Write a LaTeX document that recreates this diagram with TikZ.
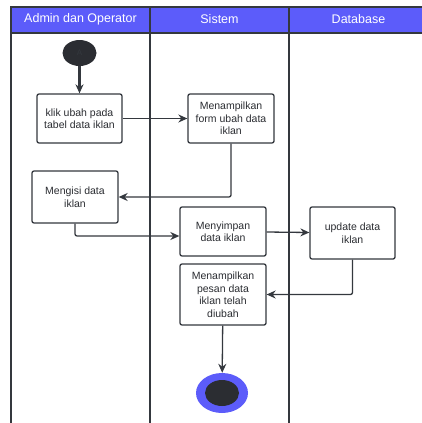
\documentclass[tikz,border=0pt]{standalone}
\usepackage{fontspec}
\setmainfont{Liberation Sans}
\usepackage{tikz}
\definecolor{lanehead}{RGB}{92, 92, 250}
\definecolor{ln}{RGB}{52, 56, 62}
\definecolor{dk}{RGB}{43, 45, 50}
\usetikzlibrary{arrows.meta}
\usetikzlibrary{positioning}
\usetikzlibrary{shapes.geometric}

\begin{document}
\begin{tikzpicture}[x=1pt, y=1pt,
act/.style={rectangle, rounded corners=2pt, draw=ln, line width=1.3pt, fill=white, minimum width=86pt, minimum height=49pt, align=center, font=\fontsize{10.5}{12.5}\selectfont, text=dk},
flow/.style={line width=1.3pt, color=ln, -{Stealth[length=9pt, width=8pt]}},
lane/.style={line width=1.4pt, color=ln},
head/.style={text=white, font=\fontsize{12.5}{14}\selectfont}]
\useasboundingbox (0,0) rectangle (422,-423);
% swimlanes
\fill [lanehead] (11,-7) rectangle (424,-33);
\draw [lane] (11,-425) -- (11,-7) -- (424,-7);
\draw [lane] (11,-33) -- (424,-33);
\draw [lane] (150,-7) -- (150,-425);
\draw [lane] (289,-7) -- (289,-425);
\node (h1) [head] at (80.5, -19.5) {Admin dan Operator};
\node (h2) [head] at (219.5, -19.5) {Sistem};
\node (h3) [head] at (358.5, -19.5) {Database};
% activities
\node (0) [ellipse, minimum width=34pt, minimum height=26pt, fill=dk, inner sep=0pt, text=ln, font=\fontsize{8}{8}\selectfont] at (79.5, -53) {A};
\node (1) [act, minimum width=85pt] at (79.5, -118.5) {klik ubah pada\\tabel data iklan};
\node (2) [act] at (231, -118.5) {Menampilkan\\form ubah data\\iklan};
\node (3) [act, minimum height=52pt] at (75, -197) {Mengisi data\\iklan};
\node (4) [act] at (223, -231.5) {Menyimpan\\data iklan};
\node (5) [act, minimum width=85pt, minimum height=52pt] at (352.5, -233) {update data\\iklan};
\node (6) [act, minimum height=61pt] at (223, -294.5) {Menampilkan\\pesan data\\iklan telah\\diubah};
\node (7) [ellipse, minimum width=52pt, minimum height=40pt, fill=lanehead, inner sep=0pt] at (222, -393) {};
\node (8) [ellipse, minimum width=34pt, minimum height=26pt, fill=dk, inner sep=0pt] at (222, -393) {};
% flows
\draw [flow, line width=2.2pt] (0) to (1);
\draw [flow] (1) to (2);
\draw [flow, rounded corners=2pt] (2.south) |- (3.east);
\draw [flow, rounded corners=2pt] (3.south) |- ([yshift=-4.5pt]4.west);
\draw [flow] (4) to (5);
\draw [flow, rounded corners=2pt] (5.south) |- (6.east);
\draw [flow] (6) to (7);
\end{tikzpicture}
\end{document}
